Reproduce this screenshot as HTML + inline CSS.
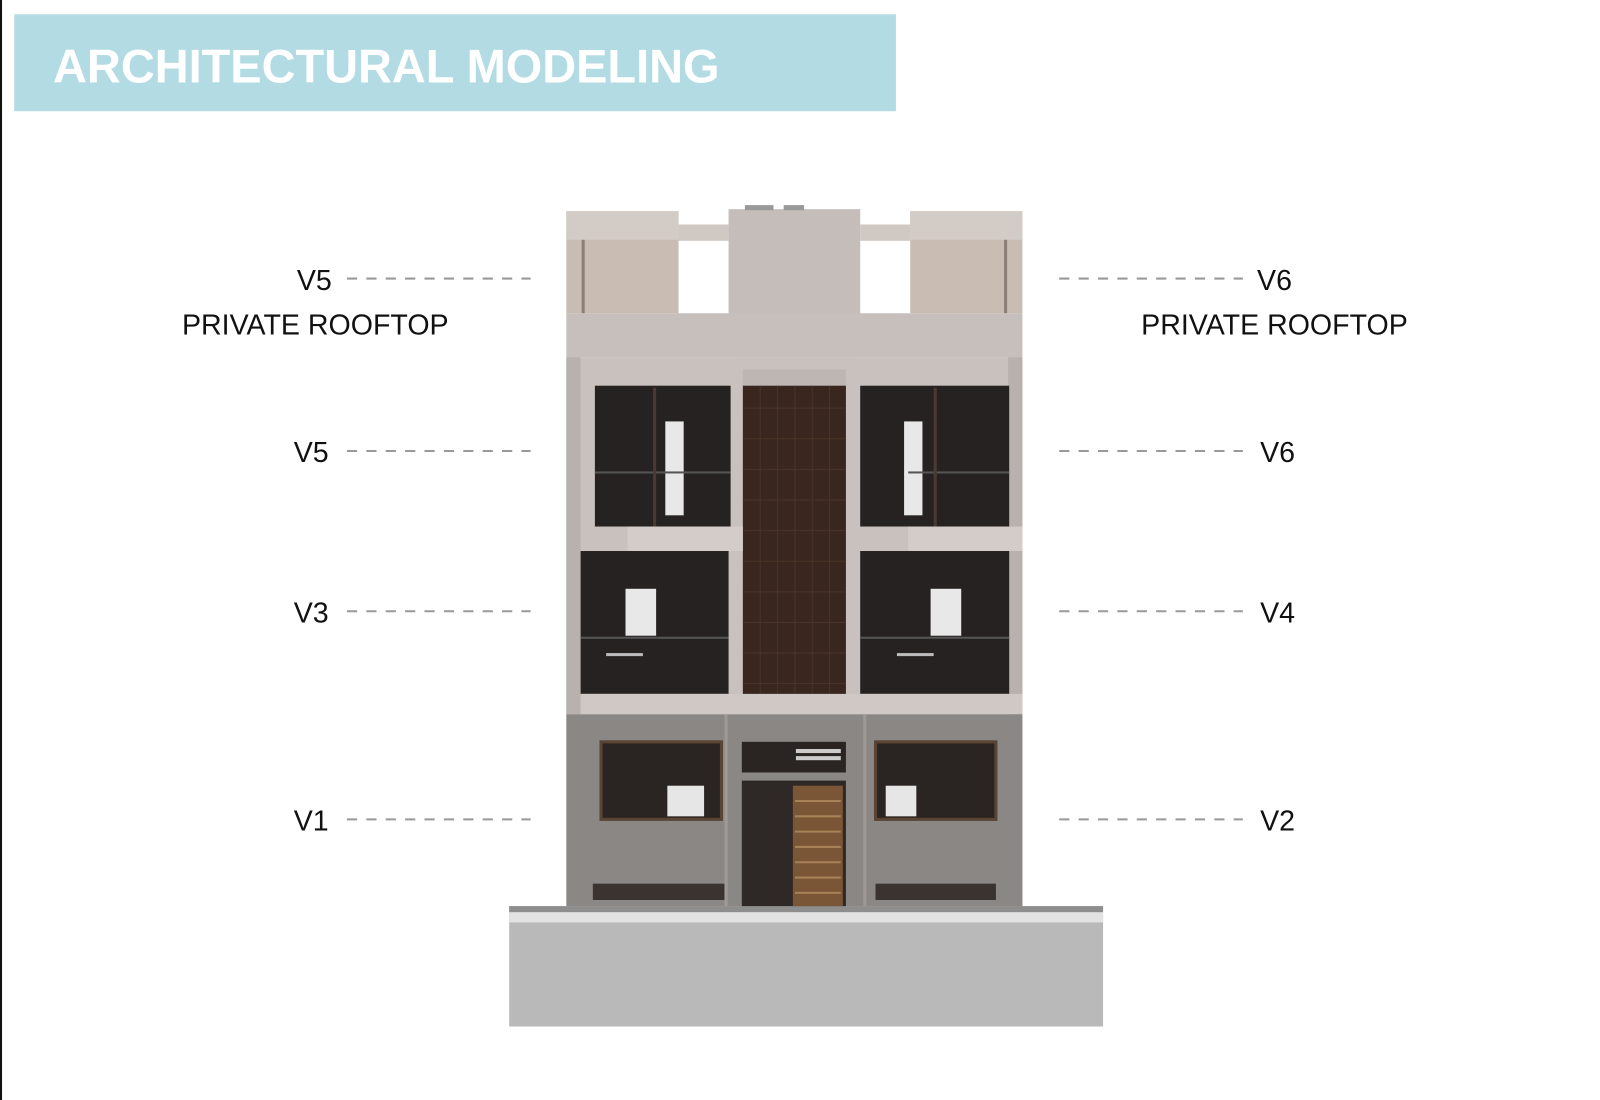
<!DOCTYPE html>
<html><head><meta charset="utf-8"><style>
html,body{margin:0;padding:0;background:#fff;}
svg{display:block;}
</style></head><body>
<svg width="1600" height="1100" viewBox="0 0 1568 1078" preserveAspectRatio="none" xmlns="http://www.w3.org/2000/svg">
<rect x="0" y="0" width="2" height="1078" fill="#111"/>
<rect x="14" y="14" width="864" height="95" fill="#b3dbe3"/>
<text x="52" y="81" font-family="Liberation Sans, sans-serif" font-weight="bold" font-size="46" fill="#fff">ARCHITECTURAL MODELING</text>

<!-- plinth -->
<rect x="499" y="888" width="582" height="118" fill="#b9b9b9"/>
<rect x="499" y="888" width="582" height="6" fill="#8e8e8e"/>
<rect x="499" y="894" width="582" height="10" fill="#e2e2e2"/>

<!-- rooftop -->
<rect x="555" y="207" width="110" height="100" fill="#c9bdb3"/>
<rect x="555" y="207" width="110" height="28" fill="#d3ccc6"/>
<rect x="892" y="207" width="110" height="100" fill="#c9bdb3"/>
<rect x="892" y="207" width="110" height="28" fill="#d3ccc6"/>
<rect x="665" y="220" width="49" height="16" fill="#cfc8c3"/>
<rect x="843" y="220" width="49" height="16" fill="#cfc8c3"/>
<rect x="570" y="235" width="3" height="72" fill="#8a7f78"/>
<rect x="984" y="235" width="3" height="72" fill="#8a7f78"/>
<rect x="714" y="205" width="129" height="145" fill="#c4bdba"/>
<rect x="730" y="201" width="28" height="5" fill="#999"/>
<rect x="768" y="201" width="20" height="5" fill="#999"/>
<rect x="555" y="307" width="447" height="43" fill="#c6bfbb"/>

<!-- upper floors -->
<rect x="555" y="350" width="447" height="350" fill="#c8c1bd"/>
<rect x="555" y="350" width="14" height="350" fill="#b8b1ad"/>
<rect x="988" y="350" width="14" height="350" fill="#b8b1ad"/>
<rect x="728" y="362" width="101" height="16" fill="#bdb6b2"/>
<rect x="728" y="378" width="101" height="307" fill="#38261f"/>
<g stroke="#4a3429" stroke-width="1">
<line x1="745" y1="378" x2="745" y2="685"/><line x1="762" y1="378" x2="762" y2="685"/><line x1="779" y1="378" x2="779" y2="685"/><line x1="796" y1="378" x2="796" y2="685"/><line x1="813" y1="378" x2="813" y2="685"/>
<line x1="728" y1="400" x2="829" y2="400"/><line x1="728" y1="430" x2="829" y2="430"/><line x1="728" y1="460" x2="829" y2="460"/><line x1="728" y1="490" x2="829" y2="490"/><line x1="728" y1="520" x2="829" y2="520"/><line x1="728" y1="550" x2="829" y2="550"/><line x1="728" y1="580" x2="829" y2="580"/><line x1="728" y1="610" x2="829" y2="610"/><line x1="728" y1="640" x2="829" y2="640"/><line x1="728" y1="670" x2="829" y2="670"/>
</g>
<!-- floor2 windows -->
<rect x="583" y="378" width="133" height="138" fill="#262222"/>
<rect x="843" y="378" width="146" height="138" fill="#262222"/>
<rect x="652" y="413" width="18" height="92" fill="#e8e8e8"/>
<rect x="886" y="413" width="18" height="92" fill="#e8e8e8"/>
<rect x="583" y="462" width="133" height="2" fill="#555"/>
<rect x="890" y="462" width="99" height="2" fill="#555"/>
<rect x="640" y="380" width="3" height="136" fill="#4a3a32"/>
<rect x="915" y="380" width="3" height="136" fill="#4a3a32"/>
<rect x="615" y="516" width="113" height="24" fill="#d3ccc8"/>
<rect x="890" y="516" width="112" height="24" fill="#d3ccc8"/>
<!-- floor1 windows -->
<rect x="569" y="540" width="145" height="140" fill="#262222"/>
<rect x="843" y="540" width="146" height="140" fill="#262222"/>
<rect x="613" y="577" width="30" height="46" fill="#e8e8e8"/>
<rect x="912" y="577" width="30" height="46" fill="#e8e8e8"/>
<rect x="569" y="624" width="145" height="2" fill="#555"/>
<rect x="843" y="624" width="146" height="2" fill="#555"/>
<rect x="594" y="640" width="36" height="3" fill="#bbb"/>
<rect x="879" y="640" width="36" height="3" fill="#bbb"/>
<rect x="569" y="680" width="433" height="20" fill="#cfc8c4"/>

<!-- ground floor -->
<rect x="555" y="700" width="447" height="188" fill="#8b8784"/>
<rect x="589" y="727" width="118" height="76" fill="#2a2523"/>
<rect x="858" y="727" width="118" height="76" fill="#2a2523"/>
<rect x="589" y="727" width="118" height="76" fill="none" stroke="#5a4434" stroke-width="3"/>
<rect x="858" y="727" width="118" height="76" fill="none" stroke="#5a4434" stroke-width="3"/>
<rect x="654" y="770" width="36" height="30" fill="#e6e6e6"/>
<rect x="868" y="770" width="30" height="30" fill="#e6e6e6"/>
<rect x="727" y="727" width="102" height="30" fill="#2a2523"/>
<rect x="780" y="734" width="44" height="4" fill="#ccc"/>
<rect x="780" y="741" width="44" height="4" fill="#ccc"/>
<rect x="727" y="765" width="102" height="123" fill="#2e2826"/>
<rect x="777" y="770" width="49" height="118" fill="#7a5637"/>
<g stroke="#a88158" stroke-width="2">
<line x1="779" y1="785" x2="824" y2="785"/><line x1="779" y1="800" x2="824" y2="800"/><line x1="779" y1="815" x2="824" y2="815"/><line x1="779" y1="830" x2="824" y2="830"/><line x1="779" y1="845" x2="824" y2="845"/><line x1="779" y1="860" x2="824" y2="860"/><line x1="779" y1="875" x2="824" y2="875"/>
</g>
<rect x="581" y="866" width="130" height="16" fill="#3a3330"/>
<rect x="858" y="866" width="118" height="16" fill="#3a3330"/>
<rect x="710" y="700" width="3" height="188" fill="#a09a96"/>
<rect x="846" y="700" width="3" height="188" fill="#a09a96"/>

<!-- labels -->
<g font-family="Liberation Sans, sans-serif" font-size="28" fill="#111">
<text x="308" y="284" text-anchor="middle">V5</text>
<text x="309" y="328" text-anchor="middle">PRIVATE ROOFTOP</text>
<text x="305" y="453" text-anchor="middle">V5</text>
<text x="305" y="610" text-anchor="middle">V3</text>
<text x="305" y="814" text-anchor="middle">V1</text>
<text x="1249" y="284" text-anchor="middle">V6</text>
<text x="1249" y="328" text-anchor="middle">PRIVATE ROOFTOP</text>
<text x="1252" y="453" text-anchor="middle">V6</text>
<text x="1252" y="610" text-anchor="middle">V4</text>
<text x="1252" y="814" text-anchor="middle">V2</text>
</g>
<g stroke="#999" stroke-width="2" stroke-dasharray="10,9">
<line x1="340" y1="273" x2="520" y2="273"/>
<line x1="340" y1="442" x2="520" y2="442"/>
<line x1="340" y1="599" x2="520" y2="599"/>
<line x1="340" y1="803" x2="520" y2="803"/>
<line x1="1038" y1="273" x2="1218" y2="273"/>
<line x1="1038" y1="442" x2="1218" y2="442"/>
<line x1="1038" y1="599" x2="1218" y2="599"/>
<line x1="1038" y1="803" x2="1218" y2="803"/>
</g>
</svg>
</body></html>
